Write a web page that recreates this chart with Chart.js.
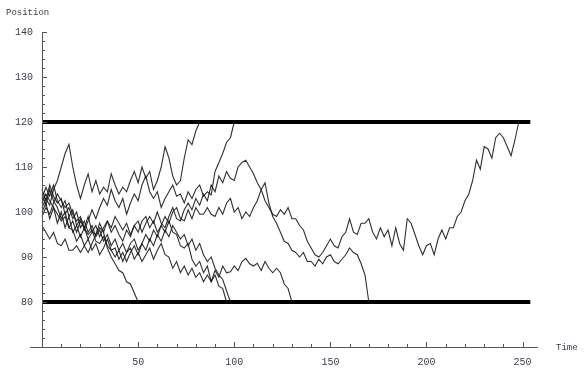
<!DOCTYPE html>
<html>
<head>
<meta charset="utf-8">
<script src="https://cdn.jsdelivr.net/npm/chart.js@4.4.1/dist/chart.umd.min.js"></script>
<style>
    html, body { margin: 0; padding: 0; background: #fff; }
</style>
</head>
<body>
<canvas id="graphCanvas" width="586" height="370"></canvas>
<script>
// one value every 2 time units
var timeStep = 2;

var walk1 = [101, 103, 101.5, 105, 107, 110, 113, 115, 110, 106, 103, 106, 108.5, 104.5, 107, 104,
    105.5, 104.5, 108.5, 106, 104, 105.5, 104.5, 107, 109, 106.5, 110, 107.5, 109, 105, 107, 110,
    114.5, 112, 108, 106, 107, 112, 116, 115, 118, 120];

var walk2 = [103, 105.5, 103.5, 106, 102.5, 101, 102.5, 99, 100.5, 97, 98.5, 96, 98, 100.5, 98.5, 101,
    103, 101.5, 105, 102.5, 101, 103, 99.5, 102, 104, 102.5, 106, 108, 104.5, 103, 104.5, 101,
    103, 104.5, 106, 103.5, 104, 102, 104.5, 103, 105, 106, 103.5, 104.5, 103.8, 109, 111, 113,
    115.5, 116.5, 120];

var walk3 = [100, 102, 98.5, 101, 97.5, 100, 96.5, 99, 95.5, 97, 94.5, 96.5, 94, 95.5, 97, 94.5,
    96.5, 98, 95.5, 97, 95, 93.5, 96, 94.5, 97, 98, 95.5, 97.5, 99, 97.5, 100, 97.5,
    96.5, 99, 101, 98.5, 98, 100.5, 102, 100.5, 103, 101.5, 104, 102.5, 106, 104.5, 108, 106.5,
    109, 107.5, 107, 110, 111, 111.5, 110, 108.5, 106.5, 105, 102.5, 101, 99.5, 99, 100.5, 99.5,
    101, 98.5, 98.5, 97, 96, 93.5, 92, 90.5, 90, 91, 92.5, 94, 92.5, 92, 94.5, 95.5,
    98.5, 95.5, 95, 97.5, 97.5, 98.5, 95.5, 94, 96.5, 94.5, 96, 92.5, 96.5, 93, 91.5, 98.5,
    97.5, 95, 92.5, 90.5, 92.5, 93, 90.5, 94, 96, 94, 96.5, 96.5, 99, 100, 102.5, 104,
    107, 111.5, 109.5, 114.5, 114, 112, 116.5, 117.5, 116.5, 114.5, 112.5, 116, 120];

var walk4 = [104, 101.5, 105, 102.5, 101, 98.5, 100, 96.5, 98, 95.5, 98, 96.5, 99, 95.5, 95, 97.5,
    95.5, 98, 96.5, 99, 97.5, 96, 97.5, 95, 97, 95.5, 98, 99, 96.5, 98, 95.5, 97,
    99, 97.5, 100, 101, 98.5, 98, 100.5, 98.5, 101, 99.5, 99.5, 101, 99.5, 99, 101, 99.5,
    102, 103, 100, 101, 98.5, 100, 99, 101, 102.5, 105, 106.5, 102, 99, 97.5, 95.5, 93.5,
    93, 91.5, 91, 90, 91, 89, 89, 88, 89.5, 88.5, 90, 90.5, 89, 88.5, 89.5, 90.5,
    92, 91, 90.5, 88.5, 86, 80];

var walk5 = [97, 95.5, 94, 95.5, 93, 92.5, 94, 91.5, 91.5, 92.5, 91, 92.5, 91, 93, 95, 96.5,
    95.5, 92, 90, 88.5, 87, 86.5, 84.5, 84, 82, 80];

var walk6 = [102, 104, 102.5, 101, 99.5, 98, 99, 96.5, 96, 93.5, 95, 92.5, 94, 91.5, 93, 90.5,
    92, 94, 91.5, 90, 91.5, 89, 91, 92, 89.5, 91, 89, 90.5, 92, 89.5, 91.5, 93,
    90.5, 90, 87.5, 89, 86.5, 88, 86, 87.5, 85.5, 86.5, 84.5, 86, 84.5, 87, 85.5, 88,
    86.5, 86.7, 88, 87, 89, 89.7, 88.5, 88, 88.6, 87, 89, 87.5, 86.5, 87.5, 86.5, 84,
    83, 80];

var walk7 = [105, 102.5, 106, 103.5, 102, 103, 99.5, 101, 98.5, 100, 96.5, 98, 95.5, 97, 94.5, 96,
    93.5, 95, 92.5, 94, 91.5, 93, 91, 93, 94, 91.5, 93, 95, 93.5, 96, 94.5, 97,
    95.5, 98, 95.5, 95, 92.5, 92, 93, 89.5, 88, 89, 86.5, 88, 84.5, 86, 83.5, 83, 80];

var walk8 = [99, 101, 99.5, 102, 104, 102.5, 101, 102, 99.5, 98, 99, 96.5, 95, 96, 93.5, 93,
    94.5, 92.5, 91.5, 92, 89.5, 91, 89, 91, 92.5, 90.5, 93, 91.5, 94, 92.5, 95, 93.5,
    96, 94.5, 97, 95.5, 94, 95, 92.5, 94, 91.5, 93, 90.5, 89, 90, 87.5, 86, 85, 82.5, 80];

var barrierTimes = [0, 254];
var upperBarrier = [120, 120];
var lowerBarrier = [80, 80];

var xTicks = [50, 100, 150, 200, 250];
var yTicks = [80, 90, 100, 110, 120, 130, 140];

function toPoints(values) {
    var pts = [];
    for (var i in values) {
        pts.push({ x: i * timeStep, y: values[i] });
    }
    return pts;
}

function barrier(values) {
    return [{ x: barrierTimes[0], y: values[0] }, { x: barrierTimes[1], y: values[1] }];
}

var walks = [walk1, walk2, walk3, walk4, walk5, walk6, walk7, walk8];
var datasets = [];
for (var w in walks) {
    datasets.push({
        data: toPoints(walks[w]),
        borderColor: 'rgba(25,25,25,0.9)',
        borderWidth: 1.1,
        pointRadius: 0,
        tension: 0
    });
}
datasets.push({ data: barrier(upperBarrier), borderColor: '#000', borderWidth: 4, pointRadius: 0 });
datasets.push({ data: barrier(lowerBarrier), borderColor: '#000', borderWidth: 4, pointRadius: 0 });

var labelFont = '10px "Liberation Mono", "DejaVu Sans Mono", monospace';
var labelColor = '#3b3b4a';

// Mathematica style axes: thin lines, inward ticks, mono labels
var mathAxes = {
    id: 'mathAxes',
    afterDraw: function (chart) {
        var ctx = chart.ctx;
        var xs = chart.scales.x, ys = chart.scales.y;
        var area = chart.chartArea;
        var x0 = xs.getPixelForValue(0);
        var yb = area.bottom;
        ctx.save();
        ctx.strokeStyle = '#555';
        ctx.lineWidth = 1;
        ctx.beginPath();
        ctx.moveTo(x0 + 0.5, ys.getPixelForValue(140));
        ctx.lineTo(x0 + 0.5, yb + 1);
        ctx.moveTo(area.left, yb + 0.5);
        ctx.lineTo(area.right, yb + 0.5);
        for (var v = 70; v <= 140; v += 2) {
            var py = Math.round(ys.getPixelForValue(v)) + 0.5;
            ctx.moveTo(x0, py);
            ctx.lineTo(x0 + (v % 10 === 0 ? 5 : 3), py);
        }
        for (var t = 10; t <= 250; t += 10) {
            var px = Math.round(xs.getPixelForValue(t)) + 0.5;
            ctx.moveTo(px, yb);
            ctx.lineTo(px, yb - (t % 50 === 0 ? 5 : 3));
        }
        ctx.stroke();

        ctx.fillStyle = labelColor;
        ctx.font = labelFont;
        ctx.textAlign = 'right';
        ctx.textBaseline = 'middle';
        for (var i in yTicks) {
            ctx.fillText(String(yTicks[i]), x0 - 9, ys.getPixelForValue(yTicks[i]));
        }
        ctx.textAlign = 'center';
        ctx.textBaseline = 'top';
        for (var j in xTicks) {
            ctx.fillText(String(xTicks[j]), xs.getPixelForValue(xTicks[j]), yb + 10);
        }
        ctx.font = '9px "Liberation Mono", "DejaVu Sans Mono", monospace';
        ctx.textAlign = 'left';
        ctx.textBaseline = 'middle';
        ctx.fillText('Position', 6, 13);
        ctx.fillText('Time', 556, yb + 1);
        ctx.restore();
    }
};

var graphTarget = document.getElementById('graphCanvas');
var walkChart = new Chart(graphTarget, {
    type: 'line',
    data: { datasets: datasets },
    plugins: [mathAxes],
    options: {
        responsive: false,
        animation: false,
        layout: { padding: { left: 30, right: 48, top: 32, bottom: 23 } },
        plugins: { legend: { display: false }, tooltip: { enabled: false } },
        scales: {
            x: {
                type: 'linear', min: -6.25, max: 258,
                grid: { display: false }, border: { display: false },
                ticks: { display: false },
                afterFit: function (scale) { scale.height = 0; }
            },
            y: {
                type: 'linear', min: 70, max: 140,
                grid: { display: false }, border: { display: false },
                ticks: { display: false },
                afterFit: function (scale) { scale.width = 0; }
            }
        }
    }
});
</script>
</body>
</html>
